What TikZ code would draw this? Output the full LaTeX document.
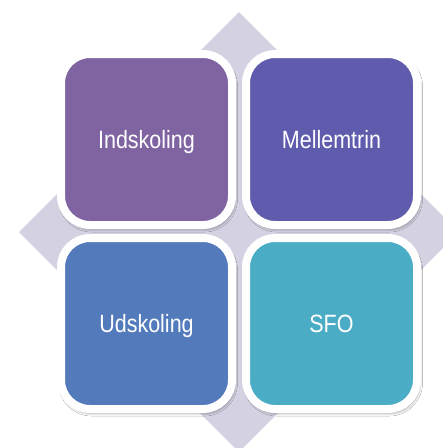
\documentclass[tikz,border=0pt]{standalone}
\usepackage{fontspec}
\setmainfont{Liberation Sans}
\newfontfamily\condfont[FakeStretch=0.86]{Liberation Sans}
\usetikzlibrary{shadows.blur}
\definecolor{diamondcol}{RGB}{212,209,226}
\definecolor{cIndsk}{RGB}{128,100,162}
\definecolor{cMellem}{RGB}{96,92,173}
\definecolor{cUdsk}{RGB}{83,123,187}
\definecolor{cSFO}{RGB}{75,172,198}
\begin{document}
\begin{tikzpicture}[x=1pt,y=-1pt,
  tile/.style={draw=white, line width=8pt, rounded corners=29pt,
    minimum width=171pt, minimum height=171pt, inner sep=0pt,
    text=white, font=\condfont\fontsize{25pt}{30pt}\selectfont,
    text height=18pt, text depth=0pt,
    blur shadow={shadow xshift=1.5pt, shadow yshift=-3pt, shadow blur radius=4pt, shadow blur steps=8, shadow opacity=60}}]
\useasboundingbox (0,0) rectangle (443,448);
\clip (0,0) rectangle (443,448);
\fill[white] (0,0) rectangle (443,448);
\fill[diamondcol] (239,12) -- (459,232) -- (239,452) -- (19,232) -- cycle;
\node[tile, fill=cIndsk] (a) at (146.5,139.5) {Indskoling};
\node[tile, fill=cMellem] (b) at (331.5,139.5) {Mellemtrin};
\node[tile, fill=cUdsk] (c) at (146.5,323.5) {Udskoling};
\node[tile, fill=cSFO] (d) at (331.5,323.5) {SFO};
\end{tikzpicture}
\end{document}
